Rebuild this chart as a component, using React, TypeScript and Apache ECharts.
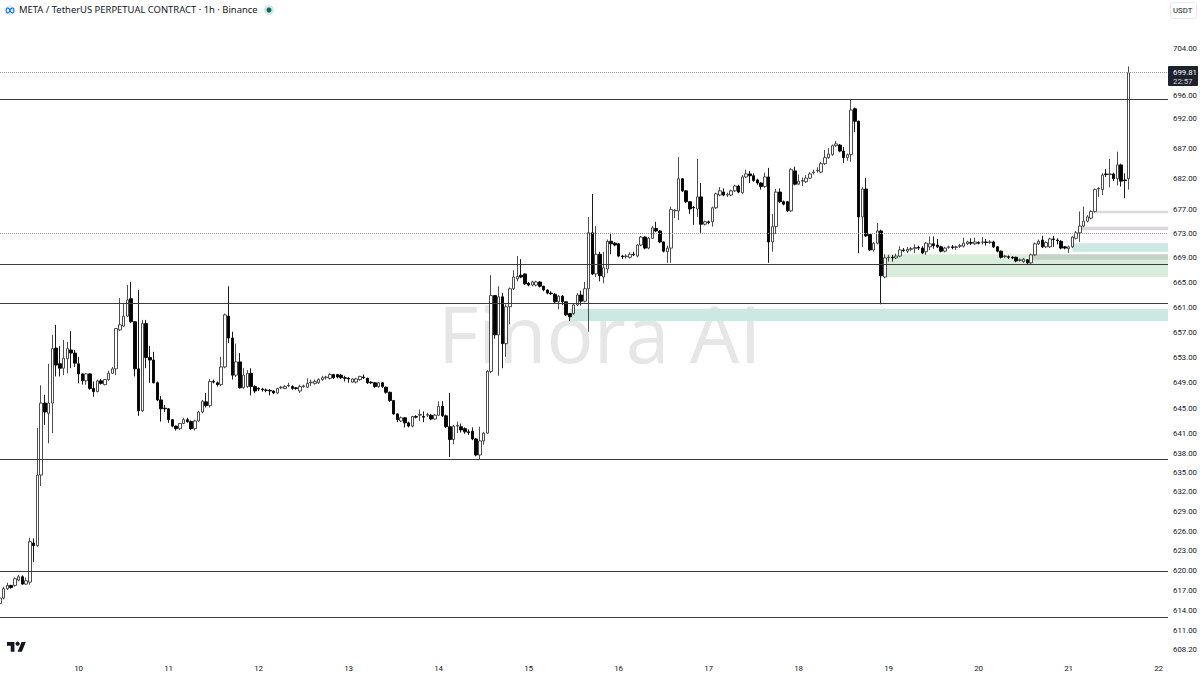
import { useEffect, useRef } from 'react';
import * as echarts from 'echarts';

// hourly candles; first bar is 9th, 03:00
const opens = [
  615.1, 615.9, 617.3, 617.8, 617.8, 618.6, 619.1, 618.0, 618.3, 624.2, 623.8, 634.6, 645.8, 644.2, 645.8, 654.5, 652.0, 651.3, 652.8, 654.2,
  653.7, 652.0, 650.4, 649.3, 650.4, 648.1, 647.6, 649.3, 648.7, 649.5, 650.5, 651.2, 657.4, 658.0, 659.6, 662.4, 658.7, 651.2, 644.6, 658.4,
  653.0, 652.6, 649.0, 646.3, 645.0, 644.9, 643.2, 642.2, 641.8, 642.6, 643.2, 642.9, 641.8, 643.0, 644.4, 646.0, 645.4, 649.2, 649.0, 648.7,
  651.5, 659.6, 656.1, 650.2, 652.3, 648.2, 648.4, 650.5, 648.4, 648.1, 648.0, 647.85, 647.8, 647.7, 647.4, 648.2, 648.1, 648.5, 648.4, 648.2,
  647.7, 648.4, 648.3, 649.0, 648.9, 649.0, 649.5, 649.8, 649.7, 650.3, 650.3, 650.2, 649.8, 649.7, 649.1, 649.1, 649.5, 649.9, 649.7, 649.1,
  649.0, 648.4, 649.0, 648.3, 647.5, 646.2, 644.1, 643.0, 643.5, 642.7, 642.2, 643.7, 643.9, 643.7, 643.9, 643.9, 643.3, 643.9, 645.3, 643.8,
  642.1, 640.1, 642.2, 642.1, 641.8, 641.3, 641.4, 640.2, 637.7, 639.9, 641.1, 650.8, 662.9, 656.6, 662.7, 655.2, 661.1, 664.0, 665.6, 666.2,
  666.4, 664.9, 664.6, 664.6, 665.1, 664.4, 663.8, 663.3, 663.1, 661.9, 662.8, 661.9, 660.0, 660.0, 661.4, 663.0, 662.0, 664.0, 673.1, 666.4,
  669.6, 665.9, 667.2, 671.7, 671.4, 671.3, 669.3, 669.2, 669.1, 669.6, 669.3, 671.1, 672.4, 670.6, 672.2, 673.8, 673.4, 671.6, 670.0, 670.6,
  676.7, 676.7, 682.0, 680.0, 678.2, 677.3, 677.0, 679.0, 674.5, 674.9, 674.9, 677.2, 679.3, 679.8, 679.3, 679.3, 680.0, 680.8, 679.7, 682.3,
  682.8, 682.5, 681.8, 681.3, 680.7, 682.3, 671.6, 674.1, 679.8, 678.2, 678.2, 676.7, 683.3, 681.1, 681.6, 681.5, 682.1, 683.0, 683.3, 683.1,
  684.5, 685.5, 686.0, 687.5, 687.6, 686.6, 685.5, 686.0, 693.7, 691.6, 675.7, 680.3, 672.8, 670.3, 671.4, 673.4, 665.9, 669.0, 669.1, 669.0,
  669.3, 670.3, 670.1, 670.4, 670.5, 670.7, 670.6, 670.0, 670.8, 671.3, 671.1, 670.8, 670.1, 670.7, 670.8, 670.7, 670.9, 670.9, 671.3, 671.5,
  671.3, 671.5, 671.5, 671.6, 671.5, 671.6, 670.8, 670.1, 669.2, 669.2, 669.1, 669.1, 668.6, 668.4, 668.7, 668.2, 669.5, 671.3, 671.9, 670.8,
  670.8, 672.1, 671.9, 671.7, 670.8, 670.5, 670.8, 672.2, 673.1, 674.2, 675.0, 675.5, 676.6, 680.3, 680.2, 682.8, 682.7, 682.8, 682.0, 684.3,
  681.8, 682.0,
];
const closes = [
  615.9, 617.3, 617.8, 617.5, 618.8, 619.1, 618.0, 618.5, 624.4, 623.8, 634.6, 645.8, 644.4, 645.8, 654.4, 651.8, 651.3, 652.9, 654.4, 653.7,
  652.1, 650.4, 649.3, 650.4, 648.1, 647.6, 649.3, 648.9, 649.5, 650.5, 651.2, 657.6, 658.2, 659.6, 662.2, 658.7, 651.2, 644.6, 658.4, 653.0,
  652.6, 649.0, 646.3, 644.9, 644.9, 643.2, 642.2, 641.8, 642.6, 643.2, 642.9, 641.8, 643.0, 644.4, 646.1, 645.4, 649.2, 649.1, 648.7, 651.5,
  659.8, 656.1, 650.2, 652.3, 648.2, 650.2, 650.5, 648.4, 647.7, 648.0, 647.9, 647.8, 647.7, 647.4, 648.1, 648.3, 648.4, 648.6, 648.1, 648.1,
  648.4, 648.5, 648.9, 649.1, 649.2, 649.5, 649.8, 649.9, 650.3, 649.8, 649.9, 649.8, 649.7, 649.6, 649.6, 649.6, 650.0, 649.8, 649.0, 649.0,
  648.4, 649.0, 648.4, 647.5, 646.2, 644.1, 643.2, 643.5, 642.7, 642.2, 643.7, 643.6, 644.0, 643.6, 644.0, 643.3, 643.9, 645.3, 643.8, 642.1,
  640.1, 642.2, 642.3, 641.6, 641.3, 641.2, 640.2, 637.7, 639.9, 641.1, 650.8, 662.9, 656.6, 662.7, 655.2, 661.1, 664.0, 665.9, 666.0, 665.9,
  664.8, 664.6, 665.1, 665.1, 664.4, 663.8, 663.3, 663.2, 661.9, 662.8, 661.9, 659.8, 659.5, 661.4, 663.0, 662.0, 664.0, 673.1, 666.4, 669.6,
  666.1, 667.4, 671.7, 671.3, 671.1, 669.3, 669.2, 669.3, 669.6, 669.5, 671.1, 672.4, 670.6, 672.2, 673.9, 673.4, 671.6, 670.1, 670.6, 676.9,
  676.8, 682.0, 680.0, 678.2, 677.0, 677.2, 679.0, 674.5, 674.9, 674.8, 677.2, 679.5, 680.0, 679.3, 679.4, 680.0, 680.8, 679.8, 682.3, 682.8,
  682.5, 681.7, 681.3, 680.7, 682.3, 671.6, 674.1, 679.8, 678.2, 677.8, 676.7, 683.5, 681.1, 681.6, 681.7, 682.1, 682.8, 683.1, 683.4, 684.5,
  685.5, 686.1, 687.5, 687.8, 686.6, 685.5, 686.0, 693.5, 691.6, 675.7, 680.3, 672.6, 670.3, 671.4, 673.4, 666.1, 669.0, 669.1, 669.0, 669.3,
  670.3, 670.2, 670.4, 670.5, 670.7, 670.6, 669.8, 671.4, 671.3, 671.0, 670.8, 670.1, 670.6, 670.8, 670.7, 670.8, 671.0, 671.4, 671.6, 671.4,
  671.6, 671.4, 671.6, 671.5, 671.6, 670.8, 670.1, 669.1, 669.3, 669.1, 669.0, 668.5, 668.7, 668.8, 668.2, 669.5, 671.3, 671.7, 670.8, 671.5,
  672.1, 672.0, 671.8, 670.6, 670.6, 670.8, 672.4, 673.1, 674.2, 675.0, 675.7, 676.6, 680.2, 680.4, 682.6, 682.7, 682.8, 682.0, 684.3, 681.6,
  681.7, 699.81,
];
const lows = [
  614.8, 615.7, 617.1, 617.3, 617.6, 618.4, 617.9, 617.9, 617.9, 621.3, 623.6, 632.9, 642.4, 639.5, 641.1, 650.0, 650.0, 650.2, 650.5, 651.3,
  651.5, 648.9, 648.7, 648.7, 647.9, 646.8, 647.5, 648.7, 648.6, 649.3, 650.4, 650.2, 657.2, 657.9, 659.5, 658.5, 650.0, 643.8, 644.4, 651.3,
  649.0, 648.9, 646.1, 642.9, 644.4, 642.7, 642.0, 641.5, 641.6, 642.5, 642.7, 641.6, 641.5, 642.9, 644.2, 645.1, 645.1, 648.9, 648.4, 648.5,
  651.3, 655.3, 649.5, 649.9, 648.1, 648.1, 648.2, 647.0, 647.4, 647.7, 647.6, 647.5, 647.0, 647.2, 647.2, 648.0, 648.0, 648.3, 647.9, 647.9,
  647.4, 648.2, 648.2, 648.5, 648.7, 648.8, 649.3, 649.5, 649.5, 649.6, 649.7, 649.6, 649.2, 649.0, 649.0, 648.9, 649.3, 649.6, 648.8, 648.8,
  648.2, 648.2, 648.2, 647.3, 646.0, 644.0, 642.8, 642.8, 642.0, 642.0, 642.0, 643.4, 643.0, 642.8, 643.6, 643.1, 643.2, 643.8, 643.6, 641.9,
  637.4, 639.4, 641.1, 641.2, 641.0, 640.8, 640.0, 637.5, 637.0, 639.3, 641.0, 650.5, 656.0, 650.1, 651.3, 653.1, 658.3, 663.8, 665.2, 665.7,
  664.6, 664.4, 664.4, 664.4, 664.2, 663.6, 663.1, 663.0, 661.7, 660.7, 661.4, 659.6, 658.8, 659.8, 661.2, 661.3, 661.8, 657.1, 666.2, 665.9,
  665.2, 664.9, 666.5, 669.6, 670.9, 669.1, 668.8, 668.9, 668.9, 669.3, 669.1, 670.9, 670.4, 670.4, 672.1, 673.2, 671.4, 669.9, 668.2, 668.2,
  675.5, 675.2, 679.8, 678.0, 676.2, 674.4, 675.7, 673.1, 674.3, 674.5, 674.1, 677.0, 679.1, 679.1, 679.0, 679.1, 679.8, 679.6, 679.5, 682.1,
  681.3, 681.5, 681.0, 680.2, 680.5, 668.2, 670.0, 672.9, 678.0, 677.6, 676.5, 676.5, 680.9, 681.0, 680.8, 681.3, 682.0, 682.7, 683.0, 682.9,
  684.3, 685.3, 685.8, 687.3, 686.4, 684.6, 685.0, 684.8, 689.8, 669.8, 670.8, 672.4, 670.1, 670.0, 671.2, 661.5, 665.7, 668.4, 668.4, 668.8,
  669.1, 670.0, 669.8, 670.1, 669.8, 670.3, 669.6, 669.5, 670.3, 670.5, 670.6, 669.9, 669.9, 670.5, 670.4, 670.3, 670.6, 670.7, 671.1, 671.1,
  671.1, 671.2, 671.2, 671.0, 671.3, 670.6, 669.9, 668.9, 669.0, 668.8, 668.8, 668.3, 668.4, 668.2, 668.0, 668.0, 669.3, 671.1, 670.6, 670.6,
  670.6, 670.8, 671.2, 670.4, 670.4, 669.8, 670.6, 672.0, 671.6, 674.0, 674.8, 675.3, 676.4, 679.0, 679.3, 682.3, 680.6, 681.6, 680.9, 680.7,
  678.8, 680.2,
];
const highs = [
  616.0, 617.6, 618.2, 617.9, 619.0, 619.4, 619.3, 619.0, 625.0, 624.9, 641.9, 648.6, 647.1, 652.0, 656.6, 658.2, 654.8, 655.8, 655.5, 657.2,
  654.2, 653.1, 650.5, 650.5, 650.5, 649.2, 649.5, 649.6, 649.6, 650.9, 651.5, 657.7, 662.5, 661.7, 664.6, 665.1, 658.8, 663.8, 659.0, 659.0,
  654.8, 653.9, 649.2, 646.9, 645.5, 645.0, 643.3, 642.3, 642.7, 643.5, 643.5, 643.1, 643.2, 644.6, 646.3, 647.4, 649.6, 649.5, 649.2, 653.1,
  660.0, 664.4, 657.1, 655.2, 653.7, 651.3, 651.0, 651.3, 648.6, 648.3, 648.2, 648.1, 648.0, 647.8, 648.2, 648.5, 648.6, 649.0, 648.6, 648.3,
  648.7, 648.7, 649.7, 649.5, 649.5, 649.7, 650.1, 650.1, 650.5, 650.4, 650.4, 650.4, 650.1, 649.9, 649.7, 649.8, 650.1, 650.3, 649.8, 649.2,
  649.1, 649.1, 649.1, 648.4, 647.6, 646.3, 644.2, 643.7, 643.6, 642.9, 643.8, 643.9, 644.8, 644.5, 644.3, 644.1, 644.1, 646.1, 646.1, 644.0,
  647.4, 642.4, 642.9, 642.6, 642.0, 641.7, 642.0, 640.3, 642.1, 641.3, 651.0, 666.2, 663.0, 664.4, 663.3, 661.5, 664.2, 667.0, 669.3, 668.8,
  666.5, 665.1, 665.3, 665.3, 665.2, 664.5, 663.9, 663.6, 663.3, 663.0, 663.0, 662.0, 660.1, 661.6, 663.3, 663.7, 665.1, 675.7, 679.5, 674.2,
  670.0, 670.0, 672.0, 673.1, 671.6, 671.4, 669.5, 669.6, 669.9, 670.0, 671.3, 672.6, 672.5, 672.4, 674.2, 674.9, 673.5, 671.7, 671.0, 677.4,
  677.0, 685.6, 682.1, 680.1, 678.3, 677.5, 685.3, 681.3, 675.1, 675.1, 677.4, 679.7, 680.6, 680.4, 679.7, 680.2, 681.0, 681.0, 682.6, 683.5,
  683.3, 682.9, 682.0, 681.4, 683.0, 683.8, 676.2, 680.3, 680.4, 678.4, 678.3, 683.8, 684.0, 682.7, 682.2, 682.6, 683.1, 683.5, 683.9, 684.8,
  686.8, 687.1, 687.7, 688.3, 687.8, 687.3, 686.2, 695.2, 693.9, 691.7, 680.6, 682.1, 672.9, 671.6, 674.7, 673.6, 669.6, 669.5, 669.5, 669.7,
  670.9, 670.6, 670.8, 670.8, 671.2, 671.0, 670.9, 671.6, 672.5, 672.5, 672.1, 671.0, 670.8, 671.0, 671.1, 671.0, 671.3, 672.3, 671.8, 672.2,
  672.3, 671.7, 672.4, 672.1, 671.9, 671.8, 670.9, 670.2, 669.5, 669.4, 669.3, 669.2, 668.9, 669.0, 668.8, 669.7, 671.5, 672.0, 672.6, 671.7,
  672.3, 672.6, 672.2, 671.9, 670.9, 671.0, 672.6, 673.4, 676.6, 677.4, 676.0, 676.8, 680.4, 680.6, 682.9, 683.6, 685.3, 683.0, 686.5, 684.5,
  682.9, 700.9,
];

const barCount = 312; // room for the empty bars right of the last candle
const firstMidnight = 21;
const dayLabels = ['10', '11', '12', '13', '14', '15', '16', '17', '18', '19', '20', '21', '22'];
const priceTicks = [704, 696, 692, 687, 682, 677, 673, 669, 665, 661, 657, 653, 649, 645, 641, 638, 635, 632, 629, 626, 623, 620, 617, 614, 611, 608.2];
const solidLevels = [695.3, 668.0, 661.6, 637.1, 619.9, 613.1];
const dottedLevels = [699.81, 673];
const lastPrice = '699.81';
const countdown = '22:57';

// [first bar, upper price, lower price, colour]
const zones: [number, number, number, string][] = [
  [152, 660.8, 658.8, '#cbe8e2'],
  [236, 669.6, 665.9, '#d9eeda'],
  [286, 671.4, 670.0, '#cbe8e2'],
  [275, 669.6, 668.7, 'rgba(120,120,120,0.22)'],
  [292, 676.7, 676.3, '#dcd6dd'],
  [288, 674.1, 673.5, '#dcd6dd'],
];

echarts.graphic.registerShape('tvLogo', echarts.graphic.extendPath('M14 22H7V11H0V4h14v18zM28 22h-8l7.5-18h8L28 22z', {}));
echarts.graphic.registerShape('metaLogo', echarts.graphic.extendPath('M1 6C1 2 4 1 6 4l2 4c2 3 5 2 5-2s-3-5-5-2L6 8C4 11 1 10 1 6z', {}));

const uiFont = "'Noto Sans', sans-serif";
const scaleFont = 'Roboto, sans-serif';

export default function App() {
  const containerRef = useRef<HTMLDivElement>(null);

  useEffect(() => {
    if (!containerRef.current) return;
    const chart = echarts.init(containerRef.current, undefined, { renderer: 'svg' });

    const categories = Array.from({ length: barCount }, (_, i) => String(i));
    const candles = opens.map((o, i) => [o, closes[i], lows[i], highs[i]]);

    chart.setOption({
      animation: false,
      backgroundColor: '#ffffff',
      grid: { left: -2, top: 26, width: 1170, height: 634, outerBoundsMode: 'none' },
      xAxis: {
        type: 'category',
        data: categories,
        boundaryGap: true,
        axisLine: { show: false },
        axisTick: { show: false },
        splitLine: { show: false },
        axisLabel: {
          margin: 4,
          fontSize: 8,
          color: '#131722',
          fontFamily: scaleFont,
          interval: (i: number) => i >= firstMidnight && (i - firstMidnight) % 24 === 0,
          formatter: (_: string, i: number) => dayLabels[(i - firstMidnight) / 24] ?? '',
        },
      },
      yAxis: {
        type: 'log',
        logBase: 10,
        position: 'right',
        min: 606.7,
        max: 707.8,
        axisLine: { show: false },
        axisTick: { show: false },
        splitLine: { show: false },
        minorTick: { show: false },
        axisLabel: {
          customValues: priceTicks,
          margin: 5,
          fontSize: 7.8,
          color: '#131722',
          fontFamily: scaleFont,
          formatter: (v: number) => Number(v).toFixed(2),
        },
      },
      series: [
        {
          type: 'candlestick',
          data: candles,
          barWidth: 3,
          itemStyle: {
            color: '#ffffff',
            color0: '#000000',
            borderColor: '#3a3a3a',
            borderColor0: '#000000',
            borderWidth: 0.9,
          },
          markLine: {
            silent: true,
            symbol: 'none',
            label: { show: false },
            data: [
              ...solidLevels.map((yAxis) => ({ yAxis, lineStyle: { color: '#3c3c3c', width: 1, type: 'solid' } })),
              ...dottedLevels.map((yAxis) => ({ yAxis, lineStyle: { color: '#9a9a9a', width: 1, type: 'dotted' } })),
            ],
          },
          markArea: {
            silent: true,
            data: zones.map(([bar, top, bottom, color]) => [
              { xAxis: bar, yAxis: top, itemStyle: { color } },
              { yAxis: bottom },
            ]),
          },
        },
      ],
      graphic: [
        { type: 'text', z: 0, x: 438, y: 293, style: { text: 'Finora AI', font: "400 78.5px 'Open Sans', sans-serif", fill: '#e6e6e7' } },
        { type: 'circle', shape: { cx: 10, cy: 10, r: 5 }, style: { fill: '#e3eefb' } },
        { type: 'metaLogo', x: 5.5, y: 6.5, scaleX: 0.65, scaleY: 0.65, style: { fill: 'none', stroke: '#0668e1', lineWidth: 1.6 } },
        { type: 'text', x: 19, y: 4.5, style: { text: 'META / TetherUS PERPETUAL CONTRACT · 1h · Binance', font: `9.44px ${uiFont}`, fill: '#131722' } },
        { type: 'circle', shape: { cx: 269, cy: 10, r: 5 }, style: { fill: '#d4e9e6' } },
        { type: 'circle', shape: { cx: 269, cy: 10, r: 2.5 }, style: { fill: '#0b6b5c' } },
        { type: 'rect', shape: { x: 1170.5, y: 2.5, width: 26, height: 16, r: 3 }, style: { fill: '#fff', stroke: '#e8eaf0' } },
        { type: 'text', x: 1173, y: 6.5, style: { text: 'USDT', font: `7.8px ${scaleFont}`, fill: '#131722' } },
        { type: 'rect', z: 10, shape: { x: 1168, y: 66, width: 30, height: 20, r: 1 }, style: { fill: '#1e222d' } },
        { type: 'text', z: 11, x: 1173, y: 68, style: { text: lastPrice, font: `7.8px ${scaleFont}`, fill: '#ffffff' } },
        { type: 'text', z: 11, x: 1173, y: 77, style: { text: countdown, font: `7.8px ${scaleFont}`, fill: '#d5d6da' } },
        { type: 'tvLogo', x: 7, y: 640, scaleX: 0.53, scaleY: 0.53, style: { fill: '#131722' } },
        { type: 'circle', shape: { cx: 17.6, cy: 643.7, r: 2.1 }, style: { fill: '#131722' } },
      ],
    });

    return () => chart.dispose();
  }, []);

  return (
    <div
      ref={containerRef}
      style={{ position: 'absolute', left: 0, top: 0, width: 1200, height: 675, background: '#fff' }}
    />
  );
}
